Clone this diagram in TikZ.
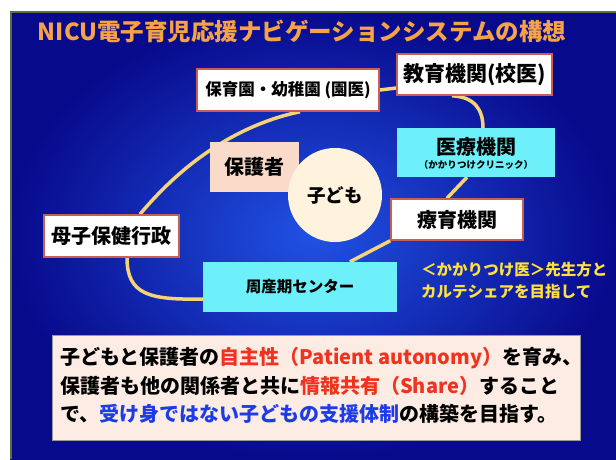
\documentclass[tikz,border=0pt]{standalone}
\usepackage{fontspec}
\setmainfont{Noto Sans CJK JP}
\usetikzlibrary{calc}
\pgfdeclarelayer{bg}
\pgfdeclarelayer{lines}
\pgfsetlayers{bg,lines,main}
\definecolor{slideOlive}{RGB}{95,110,60}
\definecolor{bgInner}{RGB}{32,82,228}
\definecolor{bgOuter}{RGB}{8,10,140}
\definecolor{titleOrange}{RGB}{247,162,70}
\definecolor{boxBorder}{RGB}{200,95,80}
\definecolor{cyanFill}{RGB}{110,240,250}
\definecolor{pinkFill}{RGB}{250,218,200}
\definecolor{creamFill}{RGB}{255,243,222}
\definecolor{loopYellow}{RGB}{245,212,120}
\definecolor{noteYellow}{RGB}{255,224,60}
\definecolor{bottomFill}{RGB}{253,236,228}
\definecolor{hiRed}{RGB}{240,50,30}
\definecolor{hiBlue}{RGB}{30,60,230}
\tikzset{
  whitebox/.style={draw=boxBorder, line width=1.5pt, fill=white, inner sep=0pt, font=\bfseries},
  cyanbox/.style={fill=cyanFill, inner sep=0pt, font=\bfseries},
  pinkbox/.style={fill=pinkFill, inner sep=0pt, font=\bfseries},
  looplink/.style={draw=loopYellow, line width=3.5pt},
  textline/.style={inner sep=0pt, anchor=west, font=\bfseries\fontsize{20}{24}\selectfont}
}
\begin{document}
\begin{tikzpicture}[x=1pt, y=-1pt]
\useasboundingbox (0,0) rectangle (616,459);
\begin{pgfonlayer}{bg}
  \fill[white] (0,0) rectangle (616,459);
  \shade[inner color=bgInner, outer color=bgOuter] (10,11) rectangle (616,459);
  \draw[slideOlive, line width=2pt] (11,459) -- (11,12) -- (616,12);
\end{pgfonlayer}

% title
\node[inner sep=0pt, text=titleOrange, font=\bfseries\fontsize{23.5}{26}\selectfont] (title) at (302,31) {NICU電子育児応援ナビゲーションシステムの構想};

% boxes
\node[whitebox, minimum width=182pt, minimum height=42pt, font=\bfseries\fontsize{16.5}{18}\selectfont] (hoiku) at (288,90) {保育園・幼稚園 (園医)};
\node[whitebox, minimum width=155pt, minimum height=41pt, font=\bfseries\fontsize{21}{24}\selectfont] (kyoiku) at (474.5,74.5) {教育機関(校医)};
\node[cyanbox, minimum width=158pt, minimum height=49pt] (iryo) at (476,152.5) {};
\node[inner sep=0pt, font=\bfseries\fontsize{20}{22}\selectfont] (iryoText) at (476,146.5) {医療機関};
\node[inner sep=0pt, font=\bfseries\fontsize{9.5}{11}\selectfont] (iryoSub) at (476,165) {（かかりつけクリニック）};
\node[pinkbox, minimum width=89pt, minimum height=50pt, font=\bfseries\fontsize{20}{22}\selectfont] (hogosha) at (254.5,167) {保護者};
\node[circle, fill=creamFill, minimum size=94pt, inner sep=0pt, font=\bfseries\fontsize{18.5}{20}\selectfont] (kodomo) at (335,195) {子ども};
\node[whitebox, minimum width=132pt, minimum height=41pt, font=\bfseries\fontsize{20}{22}\selectfont] (ryoiku) at (457,219.5) {療育機関};
\node[whitebox, minimum width=135pt, minimum height=42pt, font=\bfseries\fontsize{20}{22}\selectfont] (boshi) at (111.5,236) {母子保健行政};
\node[cyanbox, minimum width=194pt, minimum height=50pt, font=\bfseries\fontsize{15.5}{18}\selectfont] (shusan) at (300,287) {周産期センター};

% yellow note
\node[inner sep=0pt, anchor=west, text=noteYellow, font=\bfseries\fontsize{15.5}{17}\selectfont] (note1) at (421,270) {＜かかりつけ医＞先生方と};
\node[inner sep=0pt, anchor=west, text=noteYellow, font=\bfseries\fontsize{15.5}{17}\selectfont] (note2) at (421,292) {カルテシェアを目指して};

% loop connectors
\begin{pgfonlayer}{lines}
  \draw[looplink] (hoiku.east) -- ([yshift=-13.5pt]kyoiku.west);
  \draw[looplink] ([xshift=-22.5pt]kyoiku.south) .. controls (475,97) and (483,110) .. ([xshift=7pt]iryo.north);
  \draw[looplink] ([xshift=-9pt]iryo.south) -- ([xshift=-10pt]ryoiku.north);
  \draw[looplink] (ryoiku.south west) -- ([xshift=50pt]shusan.north);
  \draw[looplink] ([yshift=-12pt]shusan.west) .. controls (150,300) and (127,295) .. ([xshift=15.5pt]boshi.south);
  \draw[looplink] ([xshift=28.5pt]boshi.north) .. controls (192,152) and (250,122) .. ([xshift=12pt]hoiku.south);
\end{pgfonlayer}

% bottom message
\node[fill=bottomFill, draw=black!40, line width=0.8pt, minimum width=528pt, minimum height=105pt, inner sep=0pt] (msg) at (316,387.5) {};
\node[textline] (line1) at (60,358) {子どもと保護者の\textcolor{hiRed}{自主性（Patient autonomy）}を育み、};
\node[textline] (line2) at (60,386) {保護者も他の関係者と共に\textcolor{hiRed}{情報共有（Share）}すること};
\node[textline] (line3) at (60,414) {で、\textcolor{hiBlue}{受け身ではない子どもの支援体制}の構築を目指す。};
\end{tikzpicture}
\end{document}
